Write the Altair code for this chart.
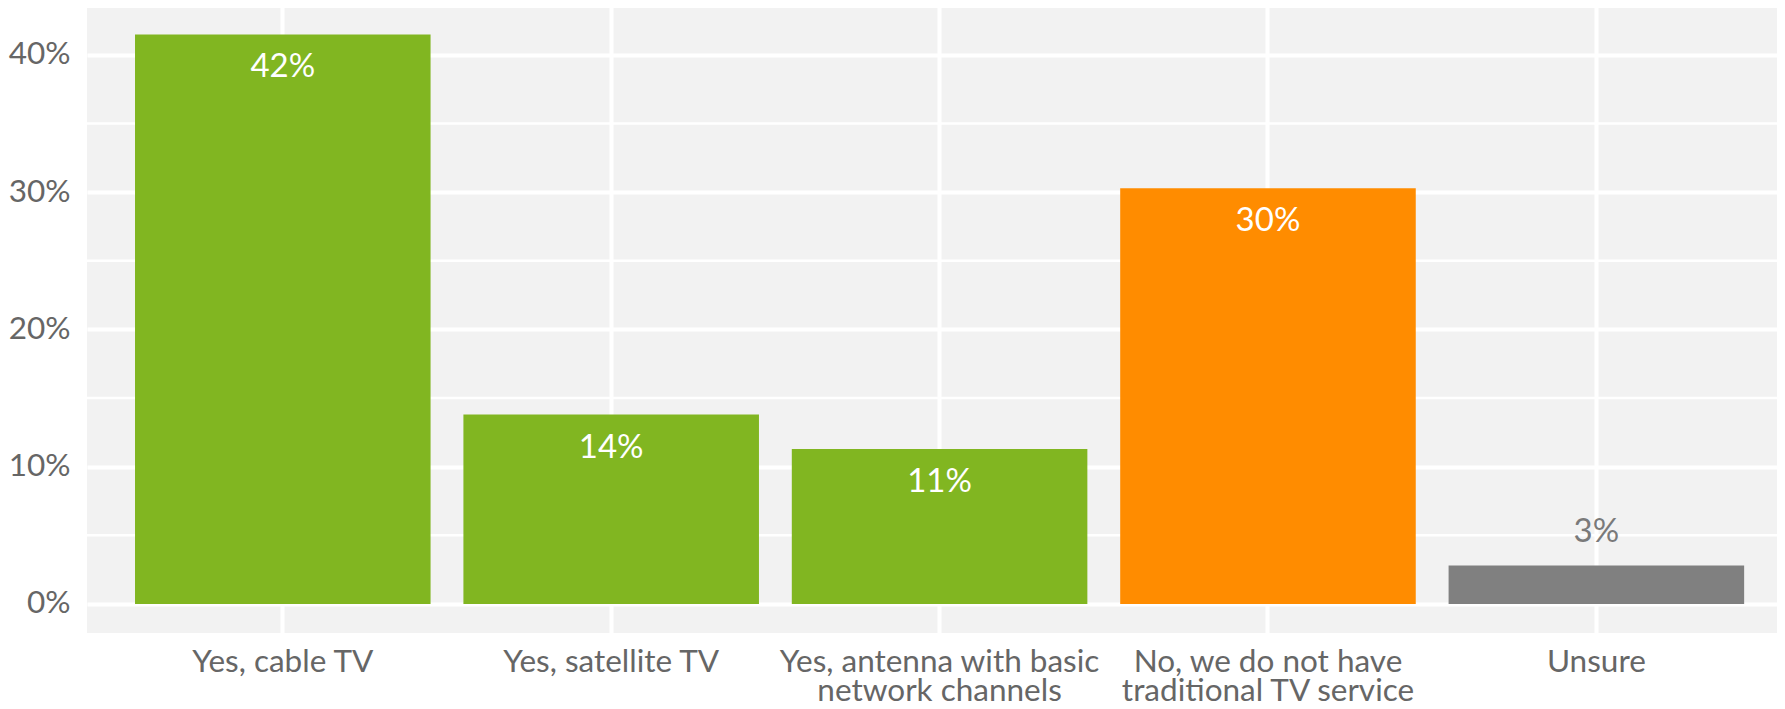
import altair as alt
import pandas as pd

categories = [
    "Yes, cable TV",
    "Yes, satellite TV",
    "Yes, antenna with basic network channels",
    "No, we do not have traditional TV service",
    "Unsure",
]
values = [41.5, 13.8, 11.3, 30.3, 2.8]
value_labels = ["42%", "14%", "11%", "30%", "3%"]
bar_colors = ["#81B621", "#81B621", "#81B621", "#FF8C00", "#808080"]
label_inside = [True, True, True, True, False]
label_lines = [
    ["Yes, cable TV"],
    ["Yes, satellite TV"],
    ["Yes, antenna with basic", "network channels"],
    ["No, we do not have", "traditional TV service"],
    ["Unsure"],
]
y_ticks = [0, 10, 20, 30, 40]
minor_breaks = [5, 15, 25, 35]

df = pd.DataFrame({
    "category": categories,
    "value": values,
    "label": value_labels,
    "inside": label_inside,
})
minor_df = pd.DataFrame({"value": minor_breaks})

# build multi-line label expression
expr = "datum.label"
for cat, lines in reversed(list(zip(categories, label_lines))):
    arr = "[" + ",".join("'" + l + "'" for l in lines) + "]"
    expr = f"datum.label == '{cat}' ? {arr} : ({expr})"

FONT = "Lato"
AXIS_COLOR = "#666666"

x_scale = alt.Scale(domain=categories, paddingInner=0.1, paddingOuter=0.1353, align=0.5403)
y_scale = alt.Scale(domain=[-2.113, 43.57], nice=False, zero=False)

x_axis = alt.Axis(
    title=None, labelAngle=0, labelExpr=expr, labelFont=FONT, labelFontSize=31.5,
    labelColor=AXIS_COLOR, labelPadding=13, labelBaseline="top", labelLineHeight=29.5,
    labelLimit=1000, labelOverlap=False, labelBound=False, ticks=False, tickSize=0,
    domain=False, grid=True, gridColor="white", gridWidth=4, gridOpacity=1,
)
y_axis = alt.Axis(
    title=None, values=y_ticks, labelExpr="datum.value + '%'", labelFont=FONT,
    labelFontSize=31.5, labelColor=AXIS_COLOR, labelPadding=17, ticks=False, tickSize=0,
    domain=False, grid=True, gridColor="white", gridWidth=4, gridOpacity=1,
    labelOverlap=False, labelBound=False,
)

minor = alt.Chart(minor_df).mark_rule(color="white", strokeWidth=2.5).encode(
    y=alt.Y("value:Q", scale=y_scale, axis=y_axis)
)

base = alt.Chart(df)

bars = base.mark_bar().encode(
    x=alt.X("category:N", sort=categories, scale=x_scale, axis=x_axis),
    y=alt.Y("value:Q", scale=y_scale, axis=y_axis),
    y2=alt.datum(0),
    color=alt.Color("category:N", scale=alt.Scale(domain=categories, range=bar_colors), legend=None),
)

txt_in = base.transform_filter("datum.inside").mark_text(
    font=FONT, fontSize=33, color="white", baseline="alphabetic", dy=43
).encode(
    x=alt.X("category:N", sort=categories, scale=x_scale, axis=x_axis),
    y=alt.Y("value:Q", scale=y_scale, axis=y_axis),
    text="label:N",
)

txt_out = base.transform_filter("!datum.inside").mark_text(
    font=FONT, fontSize=33, color="#7a7a7a", baseline="alphabetic", dy=-24
).encode(
    x=alt.X("category:N", sort=categories, scale=x_scale, axis=x_axis),
    y=alt.Y("value:Q", scale=y_scale, axis=y_axis),
    text="label:N",
)

chart = alt.layer(minor, bars, txt_in, txt_out).properties(
    width=1698,
    height=627,
    autosize=alt.AutoSizeParams(type="none"),
    padding={"left": 79, "top": -2, "right": -8, "bottom": 68},
    background="white",
).configure_view(fill="#F2F2F2", strokeWidth=0)

chart.save("out.html", embed_options={"renderer": "svg", "actions": False})
